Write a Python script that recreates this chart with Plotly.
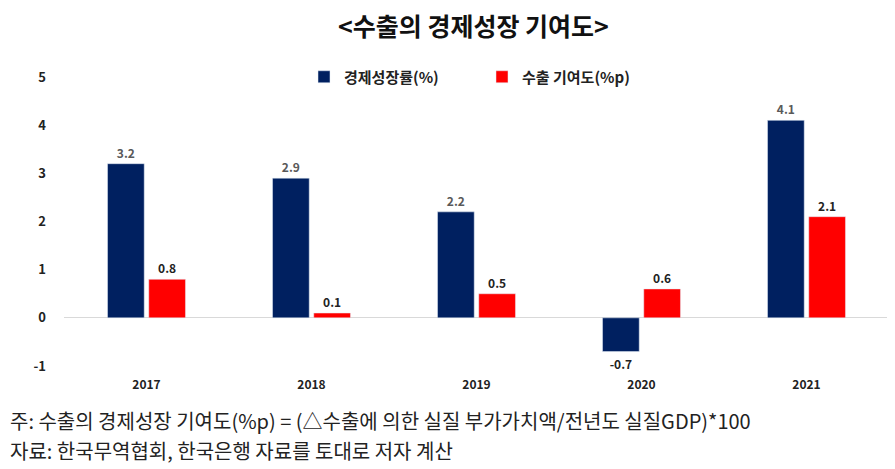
import plotly.graph_objects as go

years = ["2017", "2018", "2019", "2020", "2021"]
gdp_growth = [3.2, 2.9, 2.2, -0.7, 4.1]
export_contrib = [0.8, 0.1, 0.5, 0.6, 2.1]
y_ticks = [-1, 0, 1, 2, 3, 4, 5]
y_tick_text = ["-1", "0", "1", "2", "3", "4", "5"]

title_text = "<수출의 경제성장 기여도>"
note1 = "주: 수출의 경제성장 기여도(%p) = (△수출에 의한 실질 부가가치액/전년도 실질GDP)*100"
note2 = "자료: 한국무역협회, 한국은행 자료를 토대로 저자 계산"

FONT = "Noto Sans CJK KR"

# page body has an 8px margin; figure is sized so that it fits the window
OFF = 8
W, H = 895 - OFF, 469 - OFF
L, R, T, B = 64 - OFF, 6, 77 - OFF, 469 - 366

gdp_label_colors = ["#595959" if v >= 0 else "#222222" for v in gdp_growth]

fig = go.Figure()
fig.add_trace(go.Bar(
    x=years, y=gdp_growth, name="경제성장률(%)",
    marker=dict(color="#002060"),
    text=[f"{v:.1f}" for v in gdp_growth], textposition="outside",
    textfont=dict(color=gdp_label_colors, size=12, family=FONT, weight="bold"),
    cliponaxis=False,
))
fig.add_trace(go.Bar(
    x=years, y=export_contrib, name="수출 기여도(%p)",
    marker=dict(color="#FF0000"),
    text=[f"{v:.1f}" for v in export_contrib], textposition="outside",
    textfont=dict(color="#222222", size=12, family=FONT, weight="bold"),
    cliponaxis=False,
))

pw = W - L - R
ph = H - T - B


def px(xp, yp):
    """screen pixel -> paper coords"""
    return (xp - OFF - L) / pw, 1 - (yp - OFF - T) / ph


lx, ly = px(304, 77)
tx, ty = px(473, 25)
n1x, n1y = px(8, 420)
n2x, n2y = px(8, 450)

fig.update_layout(
    width=W, height=H,
    margin=dict(l=L, r=R, t=T, b=B),
    paper_bgcolor="white", plot_bgcolor="white",
    barmode="group", bargap=0.5, bargroupgap=0.11,
    font=dict(family=FONT, color="#222222"),
    showlegend=True,
    legend=dict(orientation="h", x=lx, xanchor="left", y=ly, yanchor="middle",
                font=dict(size=15, family=FONT, weight="bold", color="#222222"),
                itemwidth=30, traceorder="normal", entrywidth=133,
                bgcolor="rgba(0,0,0,0)"),
    xaxis=dict(showgrid=False, showline=False, ticks="",
               tickfont=dict(size=12, family=FONT, weight="bold", color="#222222"),
               ticklabelstandoff=10),
    yaxis=dict(range=[-1, 5], tickvals=y_ticks, ticktext=y_tick_text,
               showgrid=False, zeroline=True,
               zerolinecolor="#D9D9D9", zerolinewidth=1, showline=False, ticks="",
               tickfont=dict(size=13, family=FONT, weight="bold", color="#222222"),
               ticklabelstandoff=17),
    annotations=[
        dict(text=title_text, x=tx, y=ty, xref="paper", yref="paper", showarrow=False,
             yanchor="middle",
             font=dict(size=25, family=FONT, weight="bold", color="#111111")),
        dict(text=note1, x=n1x, y=n1y, xref="paper", yref="paper", showarrow=False,
             xanchor="left", yanchor="middle",
             font=dict(size=20, family=FONT, color="#222222")),
        dict(text=note2, x=n2x, y=n2y, xref="paper", yref="paper", showarrow=False,
             xanchor="left", yanchor="middle",
             font=dict(size=20, family=FONT, color="#222222")),
    ],
)

fig.write_html("out.html")
